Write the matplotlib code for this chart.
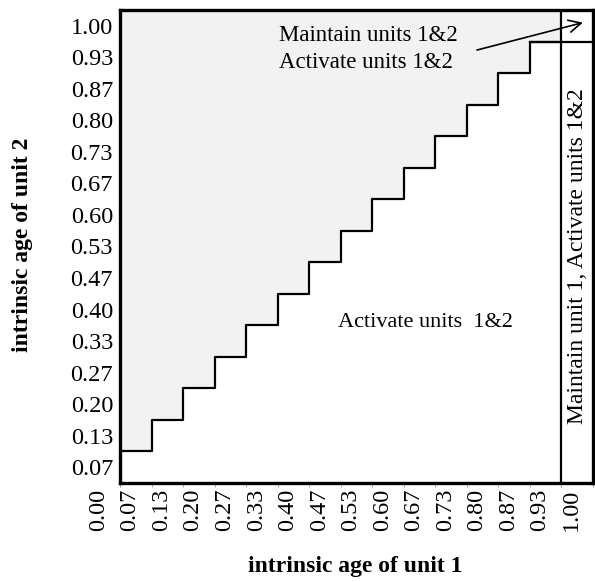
import matplotlib
matplotlib.use("Agg")
import matplotlib.pyplot as plt
from matplotlib.transforms import ScaledTranslation

plt.rcParams['font.family'] = ['Liberation Serif', 'DejaVu Serif']

# tick labels (unit ages), one cell per level
x_labels = ["0.00", "0.07", "0.13", "0.20", "0.27", "0.33", "0.40", "0.47",
            "0.53", "0.60", "0.67", "0.73", "0.80", "0.87", "0.93", "1.00"]
y_labels = ["0.07", "0.13", "0.20", "0.27", "0.33", "0.40", "0.47", "0.53",
            "0.60", "0.67", "0.73", "0.80", "0.87", "0.93", "1.00"]

# staircase boundary: unit-1 cell index -> unit-2 boundary (in cells)
stair_x = [0, 1, 2, 3, 4, 5, 6, 7, 8, 9, 10, 11, 12, 13, 14]
stair_y = [1, 2, 3, 4, 5, 6, 7, 8, 9, 10, 11, 12, 13, 14, 14]
maintain_col = 14   # unit-1 cell where "maintain unit 1" starts
maintain_row = 14   # unit-2 cell where "maintain unit 2" starts

n_x = len(x_labels) - 1
n_y = len(y_labels)

fig = plt.figure(figsize=(5.95, 5.82), dpi=100)
ax = fig.add_axes([120 / 595, 99 / 582, 473 / 595, 473 / 582])

ax.fill_between(stair_x, stair_y, n_y, step='post', color='#f2f2f2', lw=0)
ax.step(stair_x, stair_y, where='post', color='black', lw=1.6)
ax.plot([maintain_col, maintain_col], [0, n_y], color='black', lw=1.6)
ax.plot([maintain_col - 1, n_x], [maintain_row, maintain_row], color='black', lw=1.6)

for s in ax.spines.values():
    s.set_linewidth(2.4)

# x labels sit at the cell boundaries but are drawn shifted to the left
ax.set_xticks(range(len(x_labels)))
ax.set_xticklabels(x_labels, rotation=90, fontsize=17.5)
ax.tick_params(axis='x', length=3, width=0.6, color='#999999', pad=1)
shift = ScaledTranslation(-0.215, 0, fig.dpi_scale_trans)
for lab in ax.get_xticklabels():
    lab.set_transform(lab.get_transform() + shift)
ax.set_yticks([j + 0.5 for j in range(n_y)])
ax.set_yticklabels(y_labels, fontsize=17.5)
ax.tick_params(axis='y', length=0, pad=5)
ax.set_xlim(0, n_x)
ax.set_ylim(0, n_y)

ax.text(5.05, 14.2, "Maintain units 1&2", fontsize=16.5, va='center', ha='left')
ax.text(5.05, 13.35, "Activate units 1&2", fontsize=16.5, va='center', ha='left')
ax.annotate("", xy=(14.68, 14.6), xytext=(11.32, 13.73),
            arrowprops=dict(arrowstyle='->', color='black', lw=1.2,
                            mutation_scale=22, shrinkA=0, shrinkB=0))
ax.text(9.7, 5.1, "Activate units  1&2", fontsize=16, va='center', ha='center')
ax.text(14.52, 7.2, "Maintain unit 1, Activate units 1&2", fontsize=17,
        rotation=90, va='center', ha='center')

fig.text(0.597, 0.026, "intrinsic age of unit 1", fontsize=17, fontweight='bold',
         ha='center', va='center')
fig.text(0.037, 0.579, "intrinsic age of unit 2", fontsize=17, fontweight='bold',
         ha='center', va='center', rotation=90)

fig.savefig("out.png", dpi=100)
